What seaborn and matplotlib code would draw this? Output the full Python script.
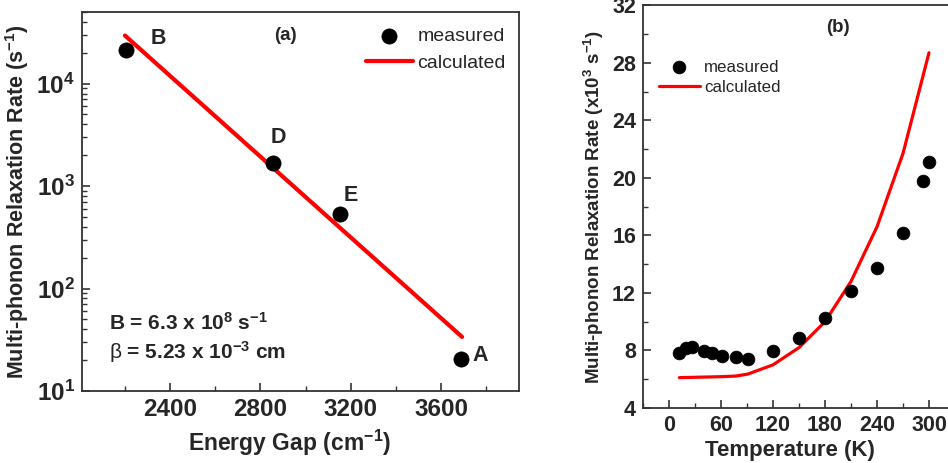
import numpy as np
import pandas as pd
import matplotlib
matplotlib.use("Agg")
import matplotlib.pyplot as plt
import seaborn as sns
from matplotlib.ticker import FixedLocator, FuncFormatter, LogLocator, MultipleLocator, NullFormatter

# ---- data (panel a) ----
gap_meas = [2205, 2856, 3153, 3689]
rate_meas = [21500, 1670, 535, 20.5]
gap_labels = ["B", "D", "E", "A"]
gap_calc = [2200, 3693]
rate_calc = [29500, 33.7]

# ---- data (panel b) ----
temp_meas = [12, 20, 26, 40, 50, 61, 77, 91, 120, 150, 180, 210, 240, 270, 293, 300]
rateT_meas = [7.85, 8.15, 8.22, 7.96, 7.85, 7.62, 7.52, 7.43, 7.96, 8.9, 10.23, 12.16, 13.7, 16.2, 19.8, 21.1]
temp_calc = [12, 61, 77, 91, 120, 150, 180, 210, 240, 270, 300]
rateT_calc = [6.11, 6.18, 6.22, 6.36, 7.0, 8.2, 10.0, 12.8, 16.6, 21.7, 28.7]

sns.set_style("ticks")
plt.rcParams['font.family'] = ['Liberation Sans', 'DejaVu Sans']
plt.rcParams['mathtext.fontset'] = 'custom'
plt.rcParams['mathtext.rm'] = 'Liberation Sans'
plt.rcParams['mathtext.bf'] = 'Liberation Sans:bold'
plt.rcParams['mathtext.it'] = 'Liberation Sans:italic'

W, H = 948, 463
fig = plt.figure(figsize=(W / 100, H / 100), dpi=100)
spine_c = '#333333'

# ---------------- panel (a) ----------------
ax1 = fig.add_axes([82 / W, 1 - 391 / H, (519 - 82) / W, (391 - 12) / H])
df_m = pd.DataFrame({"gap": gap_meas, "rate": rate_meas})
df_c = pd.DataFrame({"gap": gap_calc, "rate": rate_calc})
sns.lineplot(data=df_c, x="gap", y="rate", ax=ax1, color='#ff0000', lw=3.0, label="calculated", zorder=2)
sns.scatterplot(data=df_m, x="gap", y="rate", ax=ax1, color='black', s=120, edgecolor='black',
                linewidth=0.5, label="measured", zorder=3)
ax1.set_yscale('log')
ax1.set_xlim(2010, 3945)
ax1.set_ylim(10, 5e4)
ax1.xaxis.set_major_locator(FixedLocator([2400, 2800, 3200, 3600]))
ax1.xaxis.set_minor_locator(MultipleLocator(200))
ax1.yaxis.set_major_locator(FixedLocator([10, 100, 1000, 10000]))
ax1.yaxis.set_minor_locator(LogLocator(base=10, subs=np.arange(2, 10)))
ax1.yaxis.set_minor_formatter(NullFormatter())
ax1.yaxis.set_major_formatter(FuncFormatter(lambda v, p: r'$\mathbf{10^{%d}}$' % int(round(np.log10(v)))))
ax1.set_xlabel(r'Energy Gap (cm$^{\mathbf{-1}}$)', fontsize=16.5, fontweight='bold', labelpad=5)
ax1.xaxis.label.set_x(0.474)
ax1.set_ylabel(r'Multi-phonon Relaxation Rate (s$^{\mathbf{-1}}$)', fontsize=15.5, fontweight='bold', labelpad=4)
for lab, x, y in zip(gap_labels, [2347, 2878, 3202, 3773], [2.75e4, 2950, 817, 22.4]):
    ax1.text(x, y, lab, fontsize=15.5, fontweight='bold', ha='center', va='center')
ax1.text(0.465, 0.939, '(a)', transform=ax1.transAxes, fontsize=13.5, fontweight='bold', ha='center', va='center')
ax1.text(0.062, 0.179, r'B = 6.3 x 10$^{\mathbf{8}}$ s$^{\mathbf{-1}}$', transform=ax1.transAxes,
         fontsize=15, fontweight='bold', ha='left', va='center')
ax1.text(0.062, 0.103, r'$\mathrm{\beta}$ = 5.23 x 10$^{\mathbf{-3}}$ cm', transform=ax1.transAxes,
         fontsize=15, fontweight='bold', ha='left', va='center')
h, l = ax1.get_legend_handles_labels()
order = [l.index('measured'), l.index('calculated')]
ax1.legend([h[i] for i in order], [l[i] for i in order], loc='upper left', bbox_to_anchor=(0.65, 0.96),
           frameon=False, fontsize=14, handlelength=2.4, handletextpad=0.25, labelspacing=0.5,
           borderpad=0, borderaxespad=0)

# ---------------- panel (b) ----------------
ax2 = fig.add_axes([643 / W, 1 - 408 / H, 312 / W, (408 - 5.3) / H])
df_tm = pd.DataFrame({"T": temp_meas, "r": rateT_meas})
df_tc = pd.DataFrame({"T": temp_calc, "r": rateT_calc})
sns.lineplot(data=df_tc, x="T", y="r", ax=ax2, color='#ff0000', lw=2.3, label="calculated", zorder=2)
sns.scatterplot(data=df_tm, x="T", y="r", ax=ax2, color='black', s=85, edgecolor='black',
                linewidth=0.5, label="measured", zorder=3)
ax2.set_xlim(-30, 330)
ax2.set_ylim(4, 32)
ax2.xaxis.set_major_locator(FixedLocator([0, 60, 120, 180, 240, 300]))
ax2.xaxis.set_minor_locator(MultipleLocator(30))
ax2.yaxis.set_major_locator(MultipleLocator(4))
ax2.yaxis.set_minor_locator(MultipleLocator(2))
ax2.set_xlabel('Temperature (K)', fontsize=16, fontweight='bold', labelpad=3)
ax2.xaxis.label.set_x(0.471)
ax2.set_ylabel(r'Multi-phonon Relaxation Rate (x10$^{\mathbf{3}}$ s$^{\mathbf{-1}}$)', fontsize=13.5,
               fontweight='bold', labelpad=4)
ax2.text(0.625, 0.946, '(b)', transform=ax2.transAxes, fontsize=13.5, fontweight='bold', ha='center', va='center')
h, l = ax2.get_legend_handles_labels()
order = [l.index('measured'), l.index('calculated')]
ax2.legend([h[i] for i in order], [l[i] for i in order], loc='upper left', bbox_to_anchor=(0.051, 0.865),
           frameon=False, fontsize=12.2, handlelength=2.4, handletextpad=0.25, labelspacing=0.3,
           borderpad=0, borderaxespad=0)

for ax, fs in ((ax1, 17.5), (ax2, 15.5)):
    for s in ax.spines.values():
        s.set_visible(True)
        s.set_color(spine_c)
        s.set_linewidth(1.3)
    ax.tick_params(which='major', direction='in', length=6, width=1.2, color=spine_c, labelsize=fs,
                   top=False, right=False, pad=5)
    ax.tick_params(which='minor', direction='in', length=3.5, width=1.0, color=spine_c, top=False, right=False)
    for t in ax.get_xticklabels() + ax.get_yticklabels():
        t.set_fontweight('bold')

fig.savefig('out.png', dpi=100)
